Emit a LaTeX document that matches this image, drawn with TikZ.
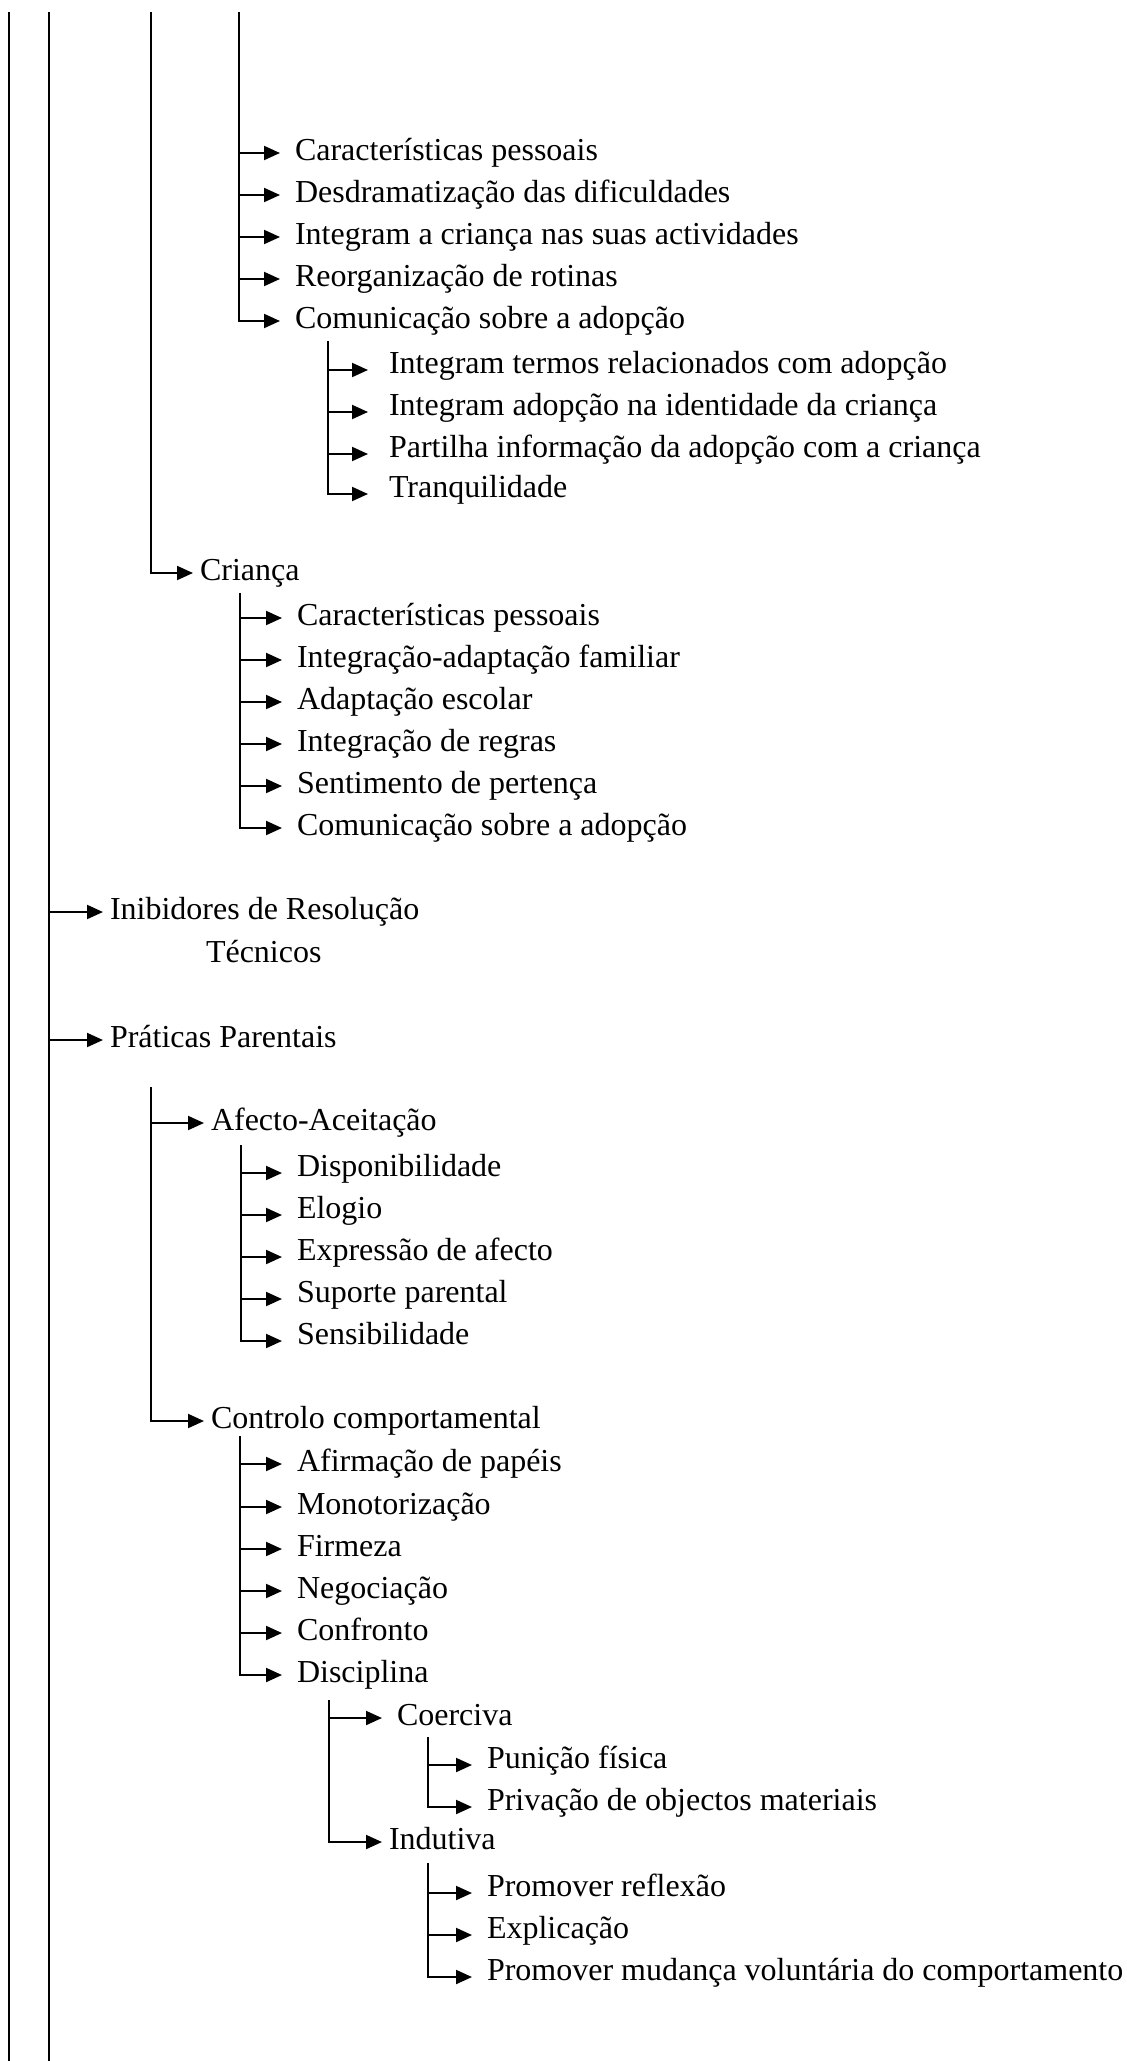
\documentclass[tikz,border=0pt]{standalone}
\usepackage{fontspec}
\setmainfont{Liberation Serif}
\usetikzlibrary{arrows.meta}

\begin{document}
\begin{tikzpicture}
	[x=0.5pt,y=-0.5pt,line width=1pt,
	every node/.style={font=\fontsize{16}{19}\selectfont,inner ysep=0pt,inner xsep=7pt,anchor=west,text height=11pt,text depth=3.5pt},
	low/.style={text height=7pt},
	near/.style={inner xsep=3pt},
	wide/.style={inner xsep=10pt},
	edge/.style={-{Triangle[length=8pt,width=7pt]}}]
	\useasboundingbox (0,0) rectangle (1126,2061);

	% long lines
	\coordinate (l0) at (9,12);
	\coordinate (l0b) at (9,2061);
	\coordinate (l1) at (49,12);
	\coordinate (l1b) at (49,2061);
	\draw (l0) -- (l0b);
	\draw (l1) -- (l1b);

	% first block
	\coordinate (la) at (239,12);
	\node (a1) at (280,153) {Características pessoais};
	\node (a2) at (280,195) {Desdramatização das dificuldades};
	\node (a3) at (280,237) {Integram a criança nas suas actividades};
	\node (a4) at (280,279) {Reorganização de rotinas};
	\node (a5) at (280,321) {Comunicação sobre a adopção};
	\draw[edge] (la |- a1.west) -- (a1.west);
	\draw[edge] (la |- a2.west) -- (a2.west);
	\draw[edge] (la |- a3.west) -- (a3.west);
	\draw[edge] (la |- a4.west) -- (a4.west);
	\draw[edge] (la) |- (a5.west);

	\coordinate (lb) at (328,341);
	\node[low,wide] (b1) at (368,370) {Integram termos relacionados com adopção};
	\node[low,wide] (b2) at (368,412) {Integram adopção na identidade da criança};
	\node[low,wide] (b3) at (368,454) {Partilha informação da adopção com a criança};
	\node[low,wide] (b4) at (368,494) {Tranquilidade};
	\draw[edge] (lb |- b1.west) -- (b1.west);
	\draw[edge] (lb |- b2.west) -- (b2.west);
	\draw[edge] (lb |- b3.west) -- (b3.west);
	\draw[edge] (lb) |- (b4.west);

	% crianca
	\coordinate (lc) at (151,12);
	\node[near] (c0) at (193,573) {Criança};
	\draw[edge] (lc) |- (c0.west);

	\coordinate (ld) at (240,593);
	\node (d1) at (282,618) {Características pessoais};
	\node (d2) at (282,660) {Integração-adaptação familiar};
	\node (d3) at (282,702) {Adaptação escolar};
	\node (d4) at (282,744) {Integração de regras};
	\node (d5) at (282,786) {Sentimento de pertença};
	\node (d6) at (282,828) {Comunicação sobre a adopção};
	\draw[edge] (ld |- d1.west) -- (d1.west);
	\draw[edge] (ld |- d2.west) -- (d2.west);
	\draw[edge] (ld |- d3.west) -- (d3.west);
	\draw[edge] (ld |- d4.west) -- (d4.west);
	\draw[edge] (ld |- d5.west) -- (d5.west);
	\draw[edge] (ld) |- (d6.west);

	% inibidores, praticas
	\node[near] (inib) at (103,912) {Inibidores de Resolução};
	\node[inner xsep=0pt] (tec) at (205,955) {Técnicos};
	\node[near] (prat) at (103,1040) {Práticas Parentais};
	\draw[edge] (l1 |- inib.west) -- (inib.west);
	\draw[edge] (l1 |- prat.west) -- (prat.west);

	\coordinate (le) at (151,1087);
	\node[near] (afe) at (204,1123) {Afecto-Aceitação};
	\node[near] (con) at (204,1421) {Controlo comportamental};
	\draw[edge] (le |- afe.west) -- (afe.west);
	\draw[edge] (le) |- (con.west);

	\coordinate (lf) at (241,1145);
	\node[low] (f1) at (282,1173) {Disponibilidade};
	\node[low] (f2) at (282,1215) {Elogio};
	\node[low] (f3) at (282,1257) {Expressão de afecto};
	\node[low] (f4) at (282,1299) {Suporte parental};
	\node[low] (f5) at (282,1341) {Sensibilidade};
	\draw[edge] (lf |- f1.west) -- (f1.west);
	\draw[edge] (lf |- f2.west) -- (f2.west);
	\draw[edge] (lf |- f3.west) -- (f3.west);
	\draw[edge] (lf |- f4.west) -- (f4.west);
	\draw[edge] (lf) |- (f5.west);

	\coordinate (lg) at (240,1436);
	\node (g1) at (282,1464) {Afirmação de papéis};
	\node (g2) at (282,1507) {Monotorização};
	\node (g3) at (282,1549) {Firmeza};
	\node (g4) at (282,1591) {Negociação};
	\node (g5) at (282,1633) {Confronto};
	\node (g6) at (282,1675) {Disciplina};
	\draw[edge] (lg |- g1.west) -- (g1.west);
	\draw[edge] (lg |- g2.west) -- (g2.west);
	\draw[edge] (lg |- g3.west) -- (g3.west);
	\draw[edge] (lg |- g4.west) -- (g4.west);
	\draw[edge] (lg |- g5.west) -- (g5.west);
	\draw[edge] (lg) |- (g6.west);

	% disciplina
	\coordinate (lh) at (329,1700);
	\node (coe) at (382,1718) {Coerciva};
	\node[near] (ind) at (382,1842) {Indutiva};
	\draw[edge] (lh |- coe.west) -- (coe.west);
	\draw[edge] (lh) |- (ind.west);

	\coordinate (li) at (428,1737);
	\node[low] (i1) at (472,1765) {Punição física};
	\node[low] (i2) at (472,1807) {Privação de objectos materiais};
	\draw[edge] (li |- i1.west) -- (i1.west);
	\draw[edge] (li) |- (i2.west);

	\coordinate (lj) at (428,1863);
	\node[low] (j1) at (472,1893) {Promover reflexão};
	\node[low] (j2) at (472,1935) {Explicação};
	\node[low] (j3) at (472,1977) {Promover mudança voluntária do comportamento};
	\draw[edge] (lj |- j1.west) -- (j1.west);
	\draw[edge] (lj |- j2.west) -- (j2.west);
	\draw[edge] (lj) |- (j3.west);
\end{tikzpicture}
\end{document}
